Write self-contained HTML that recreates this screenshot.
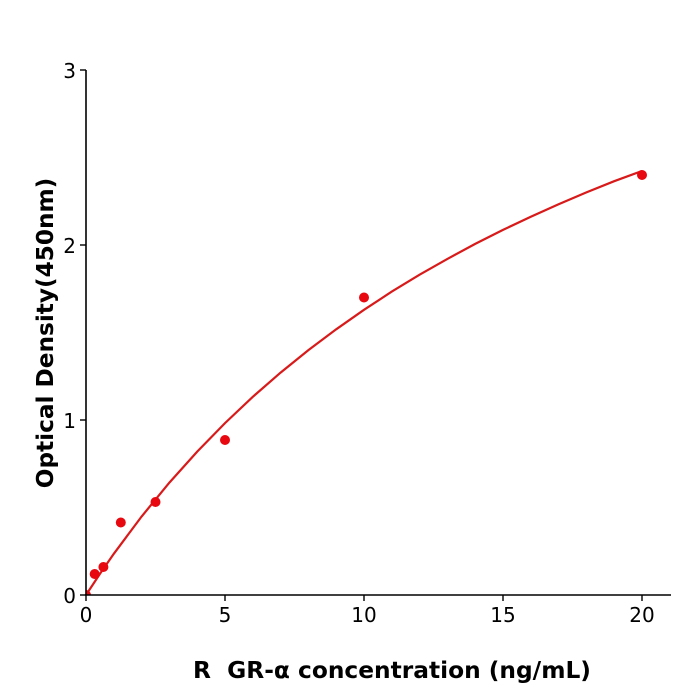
<!DOCTYPE html>
<html><head><meta charset="utf-8"><style>
html,body{margin:0;padding:0;background:#fff;}
svg{display:block;}
text{font-family:"DejaVu Sans","Liberation Sans",sans-serif;fill:#000;}
</style></head><body>
<svg width="700" height="700" viewBox="0 0 700 700" xmlns="http://www.w3.org/2000/svg">
<defs><clipPath id="ax"><rect x="86" y="0" width="620" height="595"/></clipPath></defs>
<rect width="700" height="700" fill="#fff"/>
<!-- curve -->
<polyline fill="none" stroke="#d81a1a" stroke-width="2.2" points="86,595 99.9,573.9 113.8,553.8 141.6,516.5 169.4,482.6 197.2,451.6 225,423.1 252.8,396.8 280.6,372.6 308.4,350.1 336.2,329.3 364,309.8 391.8,291.6 419.6,274.7 447.4,258.9 475.2,243.9 503,229.9 530.8,216.7 558.6,204.2 586.4,192.4 614.2,181.2 642,171"/>
<!-- points -->
<g fill="#e8080f">
<circle cx="86" cy="595" r="5" clip-path="url(#ax)"/>
<circle cx="94.7" cy="574" r="5"/>
<circle cx="103.4" cy="567" r="5"/>
<circle cx="120.8" cy="522.5" r="5"/>
<circle cx="155.5" cy="502" r="5"/>
<circle cx="225" cy="440" r="5"/>
<circle cx="364" cy="297.5" r="5"/>
<circle cx="642" cy="175" r="5"/>
</g>
<!-- axes -->
<line x1="86" y1="70" x2="86" y2="595.5" stroke="#000" stroke-width="1.6"/>
<line x1="85.2" y1="595" x2="671" y2="595" stroke="#000" stroke-width="1.6"/>
<g stroke="#000" stroke-width="1.4">
<line x1="80" y1="70" x2="86" y2="70"/>
<line x1="80" y1="245" x2="86" y2="245"/>
<line x1="80" y1="420" x2="86" y2="420"/>
<line x1="80" y1="595" x2="86" y2="595"/>
<line x1="86" y1="595" x2="86" y2="601"/>
<line x1="225" y1="595" x2="225" y2="601"/>
<line x1="364" y1="595" x2="364" y2="601"/>
<line x1="503" y1="595" x2="503" y2="601"/>
<line x1="642" y1="595" x2="642" y2="601"/>
</g>
<g font-size="20" text-anchor="end">
<text x="76" y="78">3</text>
<text x="76" y="253">2</text>
<text x="76" y="428">1</text>
<text x="76" y="603">0</text>
</g>
<g font-size="20" text-anchor="middle">
<text x="86" y="622">0</text>
<text x="225" y="622">5</text>
<text x="364" y="622">10</text>
<text x="503" y="622">15</text>
<text x="642" y="622">20</text>
</g>
<text x="193" y="678" font-size="23.3" font-weight="bold" xml:space="preserve">R  GR-α concentration (ng/mL)</text>
<text transform="translate(53,333) rotate(-90)" font-size="23.2" font-weight="bold" text-anchor="middle">Optical Density(450nm)</text>
</svg>
</body></html>
